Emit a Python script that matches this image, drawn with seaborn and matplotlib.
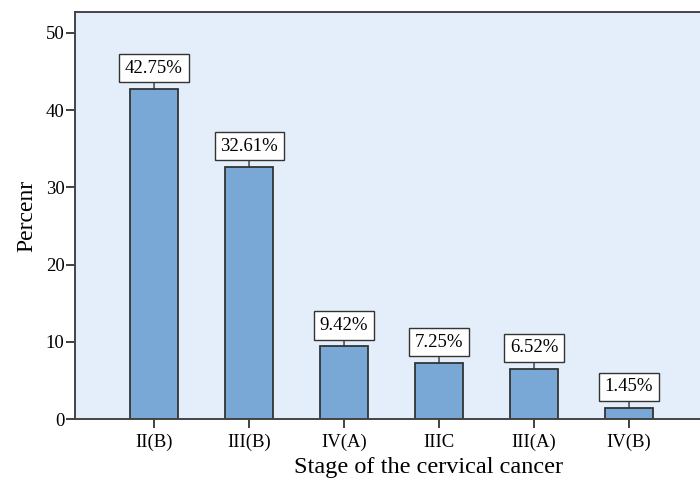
import matplotlib
matplotlib.use("Agg")
import matplotlib.pyplot as plt
import seaborn as sns
import pandas as pd

# Distribution of cervical cancer stages
stages = ["II(B)", "III(B)", "IV(A)", "IIIC", "III(A)", "IV(B)"]
percents = [42.75, 32.61, 9.42, 7.25, 6.52, 1.45]
y_ticks = [0, 10, 20, 30, 40, 50]

sns.set_style("white")
plt.rcParams["font.family"] = ["Liberation Serif", "DejaVu Serif"]
plt.rcParams.update({"text.color": "black", "axes.labelcolor": "black",
                     "xtick.color": "black", "ytick.color": "black"})

df = pd.DataFrame({"stage": stages, "percent": percents})

fig = plt.figure(figsize=(7.0, 4.82), dpi=100)
ax = fig.add_axes([75 / 700, 63 / 482, 1 - 75 / 700, (419 - 12) / 482])
ax.set_facecolor("#e4eefa")

sns.barplot(data=df, x="stage", y="percent", order=stages, color="#7aa8d6",
            saturation=1, width=0.5, edgecolor="#333333", linewidth=1.3, ax=ax)

ax.set_xlim(-0.832, 5.747)
ax.set_ylim(0, 52.7)
ax.set_yticks(y_ticks)

for i, v in enumerate(percents):
    ax.annotate(f"{v:.2f}%", xy=(i, v), xytext=(0, 15), textcoords="offset points",
                ha="center", va="center", fontsize=13.5,
                bbox=dict(boxstyle="square,pad=0.3", fc="white", ec="#333333", lw=1.0),
                arrowprops=dict(arrowstyle="-", color="#333333", lw=1.0,
                                shrinkA=0, shrinkB=0))

for side in ["top", "left", "bottom"]:
    ax.spines[side].set_visible(True)
    ax.spines[side].set_color("#444444")
    ax.spines[side].set_linewidth(1.4)
ax.spines["right"].set_visible(False)

ax.tick_params(axis="both", direction="out", length=6.5, width=1.3, color="#333333",
               labelsize=13.5, pad=1, bottom=True, left=True)
ax.tick_params(axis="x", pad=4)

ax.set_xlabel("Stage of the cervical cancer", fontsize=17.5)
ax.xaxis.set_label_coords(0.566, -0.118)
ax.xaxis.label.set_va("center")
ax.set_ylabel("Percenr", fontsize=17, labelpad=6)

fig.savefig("out.png", dpi=100)
